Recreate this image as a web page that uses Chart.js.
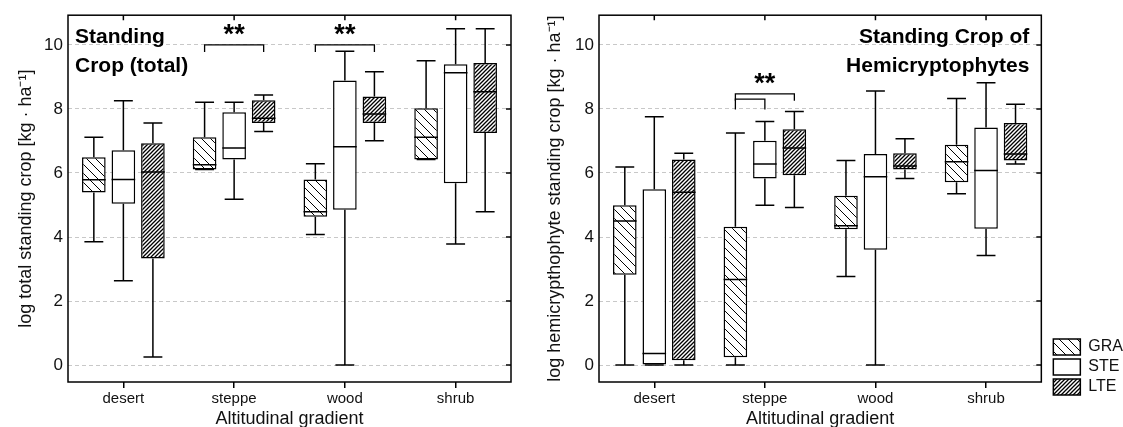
<!DOCTYPE html>
<html>
<head>
<meta charset="utf-8">
<script src="https://cdn.jsdelivr.net/npm/chart.js@4.4.1/dist/chart.umd.min.js"></script>
<style>
  body { margin: 0; background: #fff; width: 1123px; height: 427px; overflow: hidden; position: relative; }
  canvas { position: absolute; top: 0; }
  #left { left: 0; }
  #right { left: 540px; }
</style>
</head>
<body>
<canvas id="left" width="540" height="427"></canvas>
<canvas id="right" width="583" height="427"></canvas>
<script>
const categories = ['desert', 'steppe', 'wood', 'shrub'];
const groups = ['GRA', 'STE', 'LTE'];
const yTickValues = [0, 2, 4, 6, 8, 10];

// log total standing crop, rows = GRA, STE, LTE
const totalLow  = [[3.85, 6.11, 4.08, 6.42], [2.63, 5.18, 0.00, 3.78], [0.25, 7.30, 7.01, 4.79]];
const totalQ1   = [[5.39, 6.11, 4.63, 6.42], [5.04, 6.42, 4.85, 5.68], [3.33, 7.56, 7.56, 7.25]];
const totalMed  = [[5.79, 6.26, 4.79, 7.12], [5.80, 6.78, 6.82, 9.13], [6.03, 7.71, 7.84, 8.54]];
const totalQ3   = [[6.49, 7.12, 5.80, 8.02], [6.71, 7.90, 8.89, 9.40], [6.93, 8.27, 8.39, 9.44]];
const totalHigh = [[7.12, 8.21, 6.29, 9.51], [8.26, 8.21, 9.80, 10.51], [7.56, 8.44, 9.16, 10.51]];

// log hemicryptophyte standing crop, rows = GRA, STE, LTE
const hemiLow  = [[0.00, 0.00, 2.77, 5.35], [0.00, 4.99, 0.00, 3.42], [0.00, 4.92, 5.83, 6.28]];
const hemiQ1   = [[2.82, 0.24, 4.24, 5.71], [0.00, 5.83, 3.60, 4.26], [0.15, 5.93, 6.11, 6.39]];
const hemiMed  = [[4.50, 2.67, 4.35, 6.35], [0.36, 6.28, 5.88, 6.08], [5.40, 6.78, 6.22, 6.59]];
const hemiQ3   = [[4.99, 4.32, 5.29, 6.88], [5.49, 7.01, 6.59, 7.42], [6.42, 7.37, 6.62, 7.56]];
const hemiHigh = [[6.19, 7.25, 6.39, 8.33], [7.76, 7.61, 8.56, 8.82], [6.62, 7.92, 7.07, 8.15]];

const totalTitle = ['Standing', 'Crop (total)'];
const hemiTitle = ['Standing Crop of', 'Hemicryptophytes'];

// significance brackets: category, from/to group, bracket level, leg drop, star level
const totalSig = [
  { cat: 1, from: 0, to: 2, y: 10.0, drop: 0.22, label: '**', labelY: 10.55 },
  { cat: 2, from: 0, to: 2, y: 10.0, drop: 0.22, label: '**', labelY: 10.55 }
];
const hemiSig = [
  { cat: 1, from: 0, to: 2, y: 8.47, drop: 0.21, label: '**', labelY: 9.0 },
  { cat: 1, from: 0, to: 1, y: 8.31, drop: 0.33 }
];

Chart.defaults.font.family = "'Liberation Sans', Arial, sans-serif";
Chart.defaults.color = '#111';

function hatch(ctx, size, dir, width) {
  const c = document.createElement('canvas');
  c.width = c.height = size;
  const g = c.getContext('2d');
  g.fillStyle = '#fff';
  g.fillRect(0, 0, size, size);
  g.strokeStyle = '#000';
  g.lineWidth = width;
  g.beginPath();
  if (dir > 0) {
    g.moveTo(-1, size + 1); g.lineTo(size + 1, -1);
    g.moveTo(-1, 1); g.lineTo(1, -1);
    g.moveTo(size - 1, size + 1); g.lineTo(size + 1, size - 1);
  } else {
    g.moveTo(-1, -1); g.lineTo(size + 1, size + 1);
    g.moveTo(size - 1, -1); g.lineTo(size + 1, 1);
    g.moveTo(-1, size - 1); g.lineTo(1, size + 1);
  }
  g.stroke();
  return ctx.createPattern(c, 'repeat');
}

// whiskers, caps and medians drawn from the dataset summaries
const whiskers = {
  id: 'whiskers',
  afterDatasetsDraw(chart) {
    const { ctx, scales: { y } } = chart;
    ctx.save();
    ctx.strokeStyle = '#000';
    ctx.lineWidth = 1.5;
    chart.data.datasets.forEach((ds, i) => {
      chart.getDatasetMeta(i).data.forEach((bar, j) => {
        const x = bar.x, w = bar.width;
        const cap = w * 0.4;
        const yLo = y.getPixelForValue(ds.low[j]);
        const yHi = y.getPixelForValue(ds.high[j]);
        const yQ1 = y.getPixelForValue(ds.data[j][0]);
        const yQ3 = y.getPixelForValue(ds.data[j][1]);
        const yMed = y.getPixelForValue(ds.med[j]);
        ctx.beginPath();
        ctx.moveTo(x, yHi); ctx.lineTo(x, yQ3);
        ctx.moveTo(x, yQ1); ctx.lineTo(x, yLo);
        ctx.moveTo(x - cap, yHi); ctx.lineTo(x + cap, yHi);
        ctx.moveTo(x - cap, yLo); ctx.lineTo(x + cap, yLo);
        ctx.moveTo(x - w / 2, yMed); ctx.lineTo(x + w / 2, yMed);
        ctx.stroke();
      });
    });
    ctx.restore();
  }
};

// box frame with inward ticks on top and right
const frame = {
  id: 'frame',
  afterDatasetsDraw(chart) {
    const { ctx, chartArea: a, scales: { x, y } } = chart;
    ctx.save();
    ctx.strokeStyle = '#000';
    ctx.lineWidth = 1.5;
    ctx.strokeRect(a.left, a.top, a.right - a.left, a.bottom - a.top);
    ctx.beginPath();
    categories.forEach((c, i) => {
      const px = x.getPixelForTick(i);
      ctx.moveTo(px, a.top); ctx.lineTo(px, a.top + 5);
    });
    yTickValues.forEach(v => {
      const py = y.getPixelForValue(v);
      ctx.moveTo(a.right, py); ctx.lineTo(a.right - 5, py);
    });
    ctx.stroke();
    ctx.restore();
  }
};

function annotations(lines, align, sig) {
  return {
    id: 'annotations',
    afterDatasetsDraw(chart) {
      const { ctx, chartArea: a, scales: { y } } = chart;
      ctx.save();
      ctx.fillStyle = '#000';
      ctx.font = "bold 21px 'Liberation Sans', Arial, sans-serif";
      ctx.textAlign = align;
      ctx.textBaseline = 'alphabetic';
      const tx = align === 'left' ? a.left + 7 : a.right - 12;
      lines.forEach((t, i) => ctx.fillText(t, tx, a.top + 28 + i * 29));

      ctx.strokeStyle = '#000';
      ctx.lineWidth = 1.3;
      sig.forEach(s => {
        const x0 = chart.getDatasetMeta(s.from).data[s.cat].x;
        const x1 = chart.getDatasetMeta(s.to).data[s.cat].x;
        const yt = y.getPixelForValue(s.y);
        const yb = y.getPixelForValue(s.y - s.drop);
        ctx.beginPath();
        ctx.moveTo(x0, yb); ctx.lineTo(x0, yt); ctx.lineTo(x1, yt); ctx.lineTo(x1, yb);
        ctx.stroke();
        if (s.label) {
          ctx.font = "bold 27px 'Liberation Sans', Arial, sans-serif";
          ctx.textAlign = 'center';
          ctx.fillText(s.label, (x0 + x1) / 2, y.getPixelForValue(s.labelY) + 27 * 0.57);
        }
      });
      ctx.restore();
    }
  };
}

// nudge the legend below and to the right of the plot like the original
const legendShift = {
  id: 'legendShift',
  afterLayout(chart) {
    const l = chart.legend;
    if (!l || !l.options.display) return;
    l.left += 8; l.right += 8;
    l.top += 17; l.bottom += 17;
  }
};

function makeChart(id, low, q1, med, q3, high, yTitle, opts) {
  const ctx = document.getElementById(id).getContext('2d');
  const fills = [hatch(ctx, 9, -1, 1), '#fff', hatch(ctx, 4, 1, 1.3)];
  const datasets = groups.map((g, i) => ({
    label: g,
    data: categories.map((c, j) => [q1[i][j], q3[i][j]]),
    low: low[i],
    med: med[i],
    high: high[i],
    backgroundColor: fills[i],
    borderColor: '#000',
    borderWidth: 1.5,
    borderSkipped: false,
    barPercentage: 0.8,
    categoryPercentage: 0.8
  }));

  return new Chart(ctx, {
    type: 'bar',
    data: { labels: categories, datasets },
    options: {
      responsive: false,
      animation: false,
      events: [],
      layout: { padding: { top: 13, right: opts.padRight, left: 0, bottom: 0 } },
      plugins: {
        tooltip: { enabled: false },
        legend: {
          display: opts.legend,
          position: 'right',
          align: 'end',
          fullSize: false,
          labels: { boxWidth: 27, boxHeight: 16, padding: 4, color: '#111', font: { size: 16 } }
        }
      },
      scales: {
        x: {
          grid: { display: true, drawOnChartArea: false, offset: false, tickLength: 6, color: '#000', lineWidth: 1.5 },
          border: { display: false },
          ticks: { color: '#111', font: { size: 15 }, padding: 2 },
          title: { display: true, text: 'Altitudinal gradient', color: '#111', font: { size: 18 }, padding: { top: 0, bottom: -3 } },
          afterFit: s => { s.height = 45; }
        },
        y: {
          min: -0.53,
          max: 10.93,
          afterBuildTicks: s => { s.ticks = yTickValues.map(v => ({ value: v })); },
          grid: { color: '#c8c8c8', lineWidth: 1, drawTicks: false },
          border: { display: false, dash: [4, 3] },
          ticks: { color: '#111', font: { size: 17 }, padding: 5 },
          title: { display: true, text: yTitle, color: '#111', font: { size: 18 }, padding: { top: opts.titlePad, bottom: 0 } },
          afterFit: s => { s.width = opts.yWidth; }
        }
      }
    },
    plugins: [whiskers, frame, annotations(opts.title, opts.titleAlign, opts.sig), legendShift]
  });
}

makeChart('left', totalLow, totalQ1, totalMed, totalQ3, totalHigh,
  'log total standing crop [kg · ha⁻¹]',
  { padRight: 29, yWidth: 68, titlePad: 15, legend: false, title: totalTitle, titleAlign: 'left', sig: totalSig });

makeChart('right', hemiLow, hemiQ1, hemiMed, hemiQ3, hemiHigh,
  'log hemicrypthophyte standing crop [kg · ha⁻¹]',
  { padRight: -2, yWidth: 59, titlePad: 4, legend: true, title: hemiTitle, titleAlign: 'right', sig: hemiSig });
</script>
</body>
</html>
